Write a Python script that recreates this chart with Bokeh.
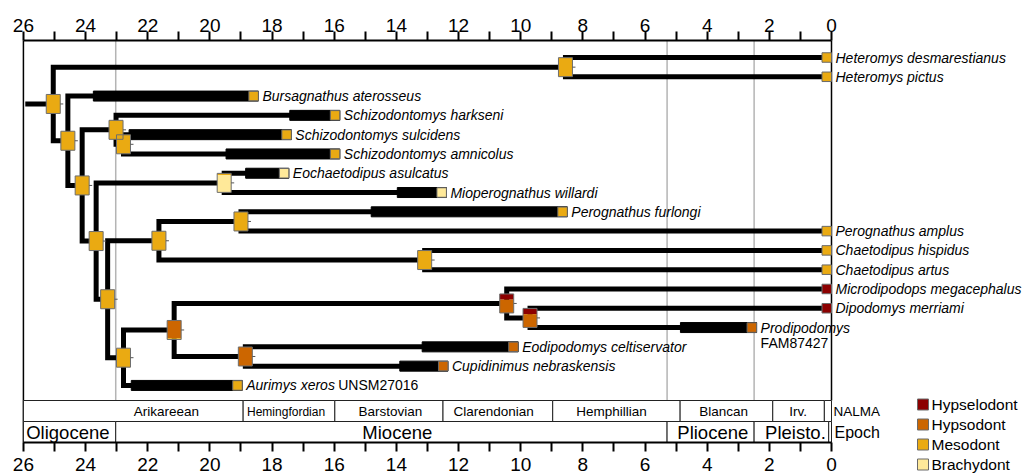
import numpy as np
from bokeh.plotting import figure
from bokeh.models import Range1d, LinearAxis, FixedTicker
from bokeh.core.properties import value
from bokeh.embed import file_html
from bokeh.resources import INLINE

# ---------------- data ----------------
tip_names = ["Heteromys desmarestianus", "Heteromys pictus", "Bursagnathus aterosseus",
             "Schizodontomys harkseni", "Schizodontomys sulcidens", "Schizodontomys amnicolus",
             "Eochaetodipus asulcatus", "Mioperognathus willardi", "Perognathus furlongi",
             "Perognathus amplus", "Chaetodipus hispidus", "Chaetodipus artus",
             "Microdipodops megacephalus", "Dipodomys merriami", "Prodipodomys",
             "Eodipodomys celtiservator", "Cupidinimus nebraskensis", "Aurimys xeros"]
tip_specimen = ["", "", "", "", "", "", "", "", "", "", "", "", "", "", "FAM87427", "", "", "UNSM27016"]
# fossil range: first appearance (Ma) and last appearance (Ma); extant taxa end at 0
tip_first = [np.nan, np.nan, 23.75, 17.43, 22.60, 19.48, 18.85, 13.97, 14.81,
             np.nan, np.nan, np.nan, np.nan, np.nan, 4.86, 13.17, 13.89, 22.53]
tip_last = [0.0, 0.0, 18.44, 15.82, 17.38, 15.82, 17.46, 12.39, 8.50,
            0.0, 0.0, 0.0, 0.0, 0.0, 2.41, 10.08, 12.34, 18.96]
tip_state = ["Mesodont", "Mesodont", "Mesodont", "Mesodont", "Mesodont", "Mesodont",
             "Brachydont", "Brachydont", "Mesodont", "Mesodont", "Mesodont", "Mesodont",
             "Hypselodont", "Hypselodont", "Hypsodont", "Hypsodont", "Hypsodont", "Mesodont"]

# internal nodes: age (Ma), children (int = tip index, str = node), state probabilities
node_names = ["root", "het", "n2", "n3", "s1", "s2", "n4", "eo", "n5", "pc", "pe", "ch",
              "n6", "dd", "eod", "dip", "dip2"]
node_age = [25.04, 8.56, 24.57, 24.11, 23.02, 22.78, 23.66, 19.54, 23.29, 21.64, 19.00,
            13.09, 22.78, 21.15, 18.86, 10.45, 9.70]
node_children = [("het", "n2"), (0, 1), (2, "n3"), ("s1", "n4"), (3, "s2"), (4, 5),
                 ("eo", "n5"), (6, 7), ("pc", "n6"), ("pe", "ch"), (8, 9), (10, 11),
                 ("dd", 17), ("dip", "eod"), (15, 16), (12, "dip2"), (13, 14)]
# fractions of [Hypselodont, Hypsodont, Mesodont, Brachydont]
node_state = [[0, 0, 1, 0], [0, 0, 1, 0], [0, 0, 1, 0], [0, 0, 1, 0], [0, 0, 1, 0],
              [0, 0, 1, 0], [0, 0, 1, 0], [0, 0, 0.08, 0.92], [0, 0, 1, 0], [0, 0, 1, 0],
              [0, 0, 1, 0], [0, 0, 1, 0], [0, 0, 1, 0], [0, 0.93, 0.07, 0], [0, 1, 0, 0],
              [0.3, 0.7, 0, 0], [0.3, 0.7, 0, 0]]
root_stem_start = 25.94

state_names = ["Hypselodont", "Hypsodont", "Mesodont", "Brachydont"]
state_colors = ["#8C0000", "#CC6600", "#EAAA12", "#FFE999"]

nalma_names = ["Arikareean", "Hemingfordian", "Barstovian", "Clarendonian", "Hemphillian",
               "Blancan", "Irv.", ""]
nalma_start = [26.0, 18.93, 15.98, 12.50, 8.97, 4.87, 1.89, 0.23]
nalma_end = [18.93, 15.98, 12.50, 8.97, 4.87, 1.89, 0.23, 0.0]
nalma_label_at = [21.40, 17.55, 14.19, 10.87, 7.08, 3.47, 1.07, 0.1]

epoch_names = ["Oligocene", "Miocene", "Pliocene", "Pleisto.", ""]
epoch_start = [26.0, 23.03, 5.29, 2.49, 0.09]
epoch_end = [23.03, 5.29, 2.49, 0.09, 0.0]
epoch_label_at = [24.57, 13.97, 3.82, 1.16, 0.05]

boundary_ages = [23.03, 5.29, 2.49]

tick_major = list(range(0, 27, 2))
tick_minor = list(range(1, 26, 2))

# ---------------- layout helpers (page pixels -> data) ----------------
W, H = 1036, 473
PX_PER_MA = 31.08
ZERO_X = 831.0
ROW0, ROW_H = 57.0, 19.29


def ma(px):
    return (ZERO_X - px) / PX_PER_MA


def row(py):
    return (py - ROW0) / ROW_H


FONT = value("Liberation Sans")

p = figure(width=W, height=H, output_backend="svg", toolbar_location=None,
           x_range=Range1d(ma(0), ma(W)), y_range=Range1d(row(H), row(0)),
           x_axis_location=None, y_axis_location=None, min_border=0,
           min_border_left=0, min_border_right=0, min_border_top=0, min_border_bottom=0,
           outline_line_color=None, background_fill_color="white",
           border_fill_color="white")
p.grid.grid_line_color = None


def style_axis(ax, tick_out, standoff):
    ax.bounds = (0, 26)
    ax.axis_line_width = 2
    ax.axis_line_color = "black"
    ax.major_tick_line_width = 2
    ax.minor_tick_line_width = 2
    ax.major_tick_in = 0
    ax.minor_tick_in = 0
    ax.major_tick_out = tick_out
    ax.minor_tick_out = tick_out
    ax.major_label_text_font = "Liberation Sans"
    ax.major_label_text_font_size = "19px"
    ax.major_label_text_color = "black"
    ax.major_label_standoff = standoff


top_axis = LinearAxis(ticker=FixedTicker(ticks=tick_major, minor_ticks=tick_minor),
                      fixed_location=row(40))
style_axis(top_axis, 9, 0)
p.add_layout(top_axis, "above")
bot_axis = LinearAxis(ticker=FixedTicker(ticks=tick_major, minor_ticks=tick_minor),
                      fixed_location=row(442))
style_axis(bot_axis, 9, 6)
p.add_layout(bot_axis, "below")

# frame lines
p.segment(x0=boundary_ages, x1=boundary_ages, y0=[row(40)] * 3, y1=[row(400)] * 3,
          line_color="#b4b4b4", line_width=1.5)
p.segment(x0=[26, 0], x1=[26, 0], y0=[row(40), row(40)], y1=[row(442), row(400)],
          line_color="black", line_width=1.5)

# ---------------- tree ----------------
node_idx = {n: i for i, n in enumerate(node_names)}
node_y = {}


def y_of(c):
    if isinstance(c, int):
        return float(c)
    if c not in node_y:
        a, b = node_children[node_idx[c]]
        node_y[c] = (y_of(a) + y_of(b)) / 2
    return node_y[c]


def x_of(c):
    return tip_last[c] if isinstance(c, int) else node_age[node_idx[c]]


xs, ys = [], []
for n, (a, b) in zip(node_names, node_children):
    xp, yp = node_age[node_idx[n]], y_of(n)
    xs.append([x_of(a), xp, xp, x_of(b)])
    ys.append([y_of(a), y_of(a), y_of(b), y_of(b)])
xs.append([root_stem_start, node_age[0]])
ys.append([y_of("root"), y_of("root")])
p.multi_line(xs, ys, line_color="black", line_width=5, line_join="miter", line_cap="butt")

# fossil ranges (thick bars)
fr = [i for i in range(len(tip_names)) if not np.isnan(tip_first[i])]
p.hbar(y=[float(i) for i in fr], left=[tip_first[i] for i in fr],
       right=[tip_last[i] for i in fr], height=10 / ROW_H, color="black")

# tip boxes
TIP = 9.5
for s, c in zip(state_names, state_colors):
    idx = [i for i, t in enumerate(tip_state) if t == s]
    p.rect(x=[tip_last[i] + (TIP / 2) / PX_PER_MA for i in idx], y=[float(i) for i in idx],
           width=TIP, height=TIP, width_units="screen", height_units="screen",
           fill_color=c, line_color="#6a6a6a", line_width=1)

# node boxes (stacked state probabilities)
BW, BH = 14 / PX_PER_MA, 19 / ROW_H
ql, qr, qt, qb, qc = [], [], [], [], []
for n, fr_ in zip(node_names, node_state):
    x, y = node_age[node_idx[n]], y_of(n)
    top = y - BH / 2
    for f, c in zip(fr_, state_colors):
        if f > 0:
            ql.append(x + BW / 2); qr.append(x - BW / 2)
            qt.append(top); qb.append(top + f * BH); qc.append(c)
            top += f * BH
p.quad(left=ql, right=qr, top=qt, bottom=qb, fill_color=qc, line_color=None)
nx = [node_age[node_idx[n]] for n in node_names]
ny = [y_of(n) for n in node_names]
p.quad(left=[x + BW / 2 for x in nx], right=[x - BW / 2 for x in nx],
       top=[y - BH / 2 for y in ny], bottom=[y + BH / 2 for y in ny],
       fill_color=None, line_color="#6e6e6e", line_width=1)
p.segment(x0=[x - BW / 2 for x in nx], x1=[x - BW / 2 - 3 / PX_PER_MA for x in nx],
          y0=ny, y1=ny, line_color="#555555", line_width=1)

# tip labels
p.text(x=tip_last, y=[float(i) for i in range(len(tip_names))], text=tip_names,
       x_offset=4, text_baseline="middle", text_font=FONT, text_font_style="italic",
       text_font_size="14px", text_color="black")
sp = [i for i, s in enumerate(tip_specimen) if s]
aur = [i for i in sp if tip_names[i] == "Aurimys xeros"]
pro = [i for i in sp if tip_names[i] != "Aurimys xeros"]
p.text(x=[tip_last[i] for i in aur], y=[float(i) for i in aur],
       text=[tip_specimen[i] for i in aur], x_offset=96, text_baseline="middle",
       text_font=FONT, text_font_size="14px", text_color="black")
p.text(x=[tip_last[i] for i in pro], y=[float(i) for i in pro],
       text=[tip_specimen[i] for i in pro], x_offset=4, y_offset=15, text_baseline="middle",
       text_font=FONT, text_font_size="14px", text_color="black")

# ---------------- NALMA / Epoch bands ----------------
p.quad(left=nalma_start, right=nalma_end, top=[row(400)] * len(nalma_start),
       bottom=[row(421)] * len(nalma_start), fill_color="white", line_color="#222222",
       line_width=1)
p.quad(left=epoch_start, right=epoch_end, top=[row(421)] * len(epoch_start),
       bottom=[row(442)] * len(epoch_start), fill_color="white", line_color="#222222",
       line_width=1)
for name, at in zip(nalma_names, nalma_label_at):
    p.text(x=[at], y=[row(411)], text=[name], text_align="center", text_baseline="middle",
           text_font=FONT, text_font_size="12px" if len(name) > 12 else "13.5px",
           text_color="black")
p.text(x=epoch_label_at, y=[row(432)] * len(epoch_label_at), text=epoch_names,
       text_align="center", text_baseline="middle", text_font=FONT,
       text_font_size="18.5px", text_color="black")
p.text(x=[ma(833)], y=[row(411)], text=["NALMA"], text_baseline="middle",
       text_font=FONT, text_font_size="13.5px", text_color="black")
p.text(x=[ma(834)], y=[row(432)], text=["Epoch"], text_baseline="middle",
       text_font=FONT, text_font_size="16px", text_color="black")

# ---------------- legend ----------------
leg_y = [row(404 + 20 * k) for k in range(4)]
p.rect(x=[ma(922.5)] * 4, y=leg_y, width=11, height=11, width_units="screen",
       height_units="screen", fill_color=state_colors, line_color="#6a6a6a", line_width=1)
p.text(x=[ma(931)] * 4, y=leg_y, text=state_names, text_baseline="middle",
       text_font=FONT, text_font_size="15.5px", text_color="black")

open("out.html", "w").write(file_html(p, INLINE))
